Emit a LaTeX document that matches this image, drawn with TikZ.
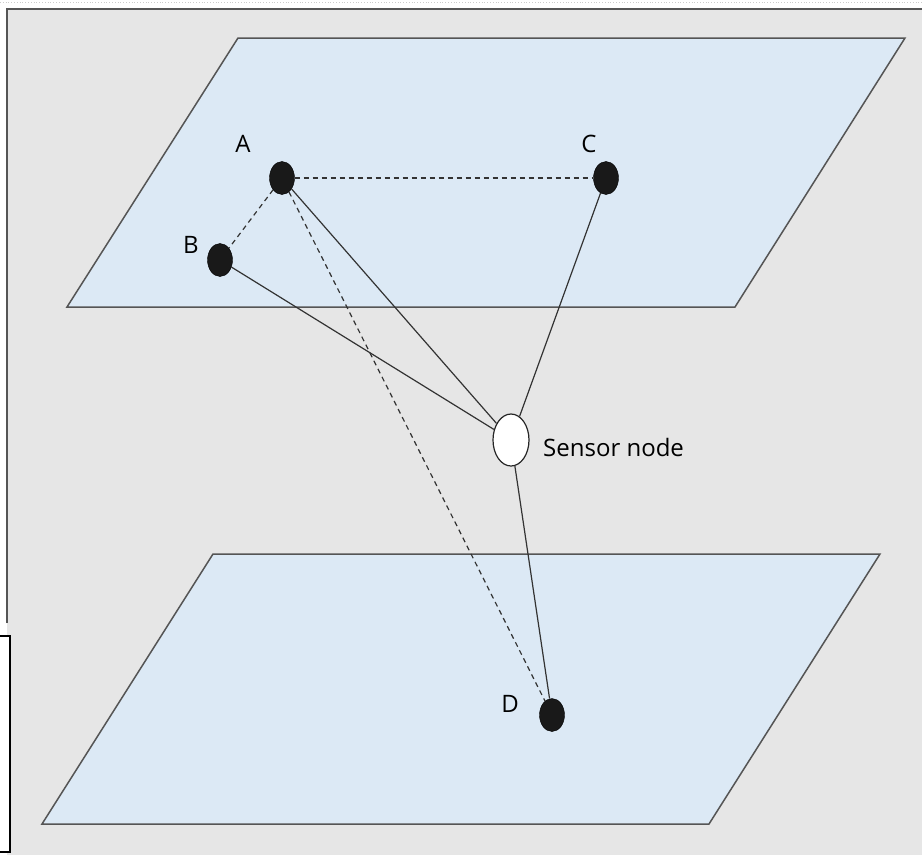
\documentclass[tikz,border=0pt]{standalone}
\usepackage{fontspec}
\setmainfont{Open Sans}
\definecolor{bggray}{HTML}{E6E6E6}
\definecolor{planefill}{HTML}{DCE9F5}
\definecolor{edgegray}{HTML}{555555}
\begin{document}
\begin{tikzpicture}[x=1pt,y=-1pt,
  plane/.style={fill=planefill,draw=edgegray,line width=1.5pt,line join=miter},
  dot/.style={ellipse,fill=black!90,draw=black,minimum width=25pt,minimum height=33pt,inner sep=0pt},
  sensor/.style={ellipse,fill=white,draw=black!85,line width=1.2pt,minimum width=36pt,minimum height=52pt,inner sep=0pt},
  lbl/.style={font=\fontsize{24}{28}\selectfont,text=black,inner sep=0pt},
  link/.style={draw=black!80,line width=1.2pt},
  dlink/.style={draw=black!80,line width=1.2pt,dash pattern=on 5pt off 4pt}]
\usetikzlibrary{shapes.geometric}
\useasboundingbox (0,0) rectangle (922,855);
\fill[white] (0,0) rectangle (922,855);
\fill[bggray] (7,9) rectangle (922,855);
\draw[gray!40,dotted,line width=0.8pt] (0,2) -- (922,2);
\draw[edgegray,line width=2pt] (7,623) -- (7,9) -- (922,9);
\draw[black,line width=2.2pt,fill=white] (-2,636) -- (10,636) -- (10,852) -- (-2,852);
% planes
\path[plane] (238,38) -- (905,38) -- (735,307) -- (67,307) -- cycle;
\path[plane] (213,554) -- (880,554) -- (709,824) -- (42,824) -- cycle;
% nodes
\node[dot] (A) at (282,178) {};
\node[dot] (B) at (220,260) {};
\node[dot] (C) at (606,178) {};
\node[dot] (D) at (552,715) {};
\node[sensor] (S) at (511,440) {};
% labels
\node[lbl] (lA) at (243,144) {A};
\node[lbl] (lB) at (191,245) {B};
\node[lbl] (lC) at (589,144) {C};
\node[lbl] (lD) at (510,704) {D};
\node[lbl,anchor=west] (lS) at (543,447) {Sensor node};
% links
\draw[dlink] (A) -- (C);
\draw[dlink] (A) -- (B);
\draw[dlink] (A) -- (D);
\draw[link] (A) -- (S);
\draw[link] (B) -- (S);
\draw[link] (C) -- (S);
\draw[link] (S) -- (D);
\end{tikzpicture}
\end{document}
